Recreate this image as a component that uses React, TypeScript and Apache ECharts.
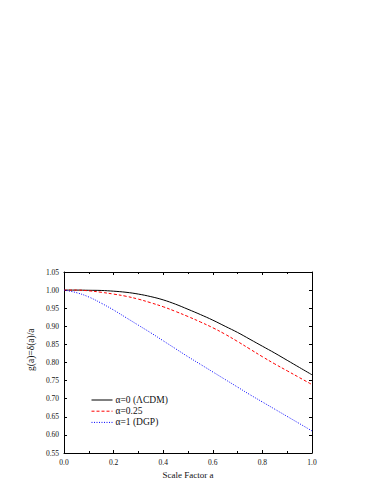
import React, { useEffect, useRef } from "react";
import * as echarts from "echarts";

const scaleFactor = [0, 0.05, 0.1, 0.15, 0.2, 0.25, 0.3, 0.35, 0.4, 0.45, 0.5, 0.55, 0.6, 0.65, 0.7, 0.75, 0.8, 0.85, 0.9, 0.95, 1.0];
const lcdm = [1.0, 1.0, 0.9995, 0.999, 0.997, 0.994, 0.989, 0.982, 0.973, 0.961, 0.947, 0.9325, 0.917, 0.900, 0.883, 0.864, 0.845, 0.826, 0.806, 0.786, 0.766];
const alpha025 = [1.0, 1.0, 0.998, 0.994, 0.989, 0.983, 0.975, 0.965, 0.954, 0.941, 0.927, 0.912, 0.896, 0.878, 0.858, 0.837, 0.816, 0.796, 0.777, 0.758, 0.739];
const dgp = [1.0, 0.993, 0.981, 0.964, 0.945, 0.924, 0.903, 0.882, 0.860, 0.838, 0.816, 0.795, 0.774, 0.753, 0.732, 0.711, 0.691, 0.671, 0.651, 0.631, 0.611];
const seriesNames = ["α=0 (ΛCDM)", "α=0.25", "α=1 (DGP)"];
const seriesColors = ["#000000", "#ff0000", "#0000ff"];
const seriesDash: any[] = ["solid", [3, 2], [1, 1.5]];

const FONT = "Liberation Serif";

export default function App() {
  const ref = useRef<HTMLDivElement>(null);
  useEffect(() => {
    if (!ref.current) return;
    const chart = echarts.init(ref.current, null, { renderer: "svg" });
    const pair = (ys: number[]) => scaleFactor.map((x, i) => [x, ys[i]]);
    const axisCommon = {
      axisLine: { show: true, onZero: false, lineStyle: { color: "#000", width: 1 } },
      axisTick: { show: true, inside: true, length: 3, lineStyle: { color: "#000", width: 1 } },
      splitLine: { show: false },
    };
    const allData = [lcdm, alpha025, dgp];
    chart.setOption({
      animation: false,
      backgroundColor: "#fff",
      textStyle: { color: "#000", fontFamily: FONT },
      grid: { left: 64, right: 71, top: 272, bottom: 42, containLabel: false },
      xAxis: [
        {
          type: "value", min: 0, max: 1, interval: 0.2,
          ...axisCommon,
          minorTick: { show: true, splitNumber: 2, length: 2, lineStyle: { color: "#000" } },
          axisLabel: { color: "#111", fontFamily: FONT, fontSize: 7.5, margin: 5, formatter: (v: number) => v.toFixed(1) },
          name: "Scale Factor a", nameLocation: "middle", nameGap: 17,
          nameTextStyle: { color: "#111", fontFamily: FONT, fontSize: 9 },
        },
        {
          type: "value", min: 0, max: 1, interval: 0.2, position: "top",
          ...axisCommon,
          minorTick: { show: true, splitNumber: 2, length: 2, lineStyle: { color: "#000" } },
          axisLabel: { show: false },
        },
      ],
      yAxis: [
        {
          type: "value", min: 0.55, max: 1.05, interval: 0.05,
          ...axisCommon,
          axisLabel: { color: "#111", fontFamily: FONT, fontSize: 7.5, margin: 5, formatter: (v: number) => v.toFixed(2) },
        },
        {
          type: "value", min: 0.55, max: 1.05, interval: 0.05, position: "right",
          ...axisCommon,
          axisLabel: { show: false },
        },
      ],
      legend: {
        show: true,
        left: 86, top: 390, orient: "vertical",
        itemWidth: 21, itemHeight: 8, itemGap: 1.2,
        textStyle: { color: "#111", fontFamily: FONT, fontSize: 9.5, padding: [0, 0, 0, -2] },
        data: seriesNames.map((n, i) => ({
          name: n,
          itemStyle: { opacity: 0 },
          lineStyle: { color: seriesColors[i], width: 1, type: seriesDash[i] },
        })),
      },
      graphic: [
        {
          type: "text", x: 31, y: 371, rotation: Math.PI / 2,
          style: { text: "g(a)=δ(a)/a", fill: "#111", font: `9.5px ${FONT}`, verticalAlign: "middle" },
        },
      ],
      series: allData.map((d, i) => ({
        name: seriesNames[i], type: "line", data: pair(d), smooth: 0.4, symbol: "none",
        lineStyle: { color: seriesColors[i], width: 1, type: seriesDash[i] },
        itemStyle: { color: seriesColors[i] },
      })),
    });
    return () => chart.dispose();
  }, []);
  return <div ref={ref} style={{ position: "absolute", left: 0, top: 0, width: 383, height: 495 }} />;
}
